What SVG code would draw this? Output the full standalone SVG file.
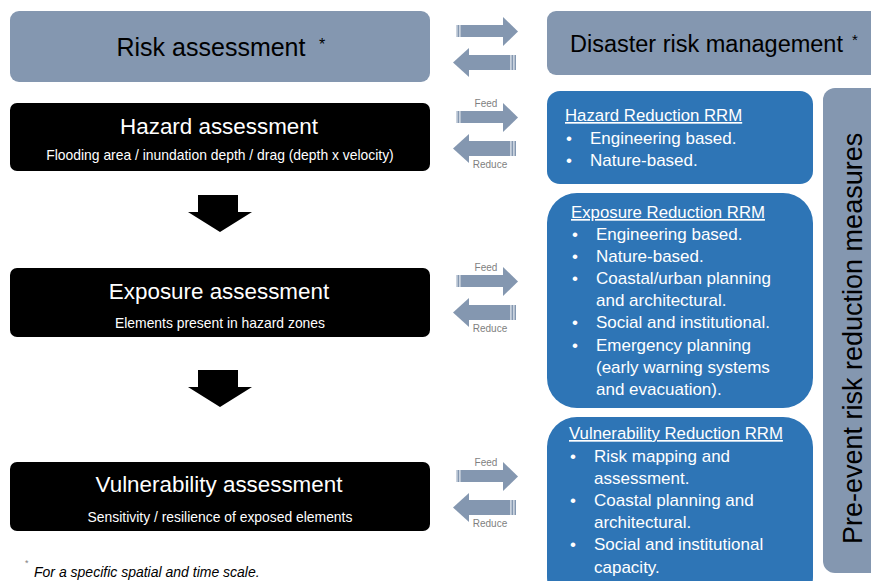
<svg xmlns="http://www.w3.org/2000/svg" width="871" height="581" viewBox="0 0 871 581">
<style>
.gb{fill:#8497b0}
.bl{fill:#2e75b6}
.bk{fill:#000}
.t{font-family:"Liberation Sans",Arial,sans-serif}
.wt{fill:#fff}
.sub{font-size:13.9px}
.lbl{font-family:"Liberation Sans",Arial,sans-serif;font-size:10px;fill:#7f7f7f;text-anchor:middle}
.rrm{font-family:"Liberation Sans",Arial,sans-serif;font-size:17px;fill:#fff}
.hd{font-size:16.8px}
.str{fill:#c9d2de}
</style>
<defs>
<g id="pair">
<rect class="gb" x="462" y="275" width="42" height="12"/>
<rect class="str" x="456" y="275" width="1.5" height="12"/><rect class="gb" x="457.5" y="275" width="1.5" height="12"/>
<rect class="str" x="459" y="275" width="1.5" height="12"/><rect class="gb" x="460.5" y="275" width="1.5" height="12"/>
<polygon class="gb" points="503,267 518,281.5 503,296"/>
<rect class="gb" x="468" y="305" width="42" height="15"/>
<rect class="str" x="510" y="305" width="1.5" height="15"/><rect class="gb" x="511.5" y="305" width="1.5" height="15"/>
<rect class="str" x="513" y="305" width="1.5" height="15"/><rect class="gb" x="514.5" y="305" width="1.5" height="15"/>
<polygon class="gb" points="469,298 453,312.5 469,327"/>
</g>
<polygon id="down" class="bk" points="198,0 238,0 238,17 252,17 220,37 188,17 198,17"/>
</defs>

<g id="risk-assessment">
<rect class="gb" x="10" y="11" width="420" height="71" rx="9"/>
<text class="t" x="211" y="56" font-size="25" text-anchor="middle" fill="#000">Risk assessment</text>
<text class="t" x="319" y="50" font-size="16" fill="#000">*</text>
</g>

<g id="disaster-risk-management">
<rect class="gb" x="547" y="11" width="340" height="64" rx="9"/>
<text class="t" x="570" y="52" font-size="23.5" fill="#000">Disaster risk management</text>
<text class="t" x="852" y="45" font-size="15" fill="#000">*</text>
</g>

<g id="hazard-assessment">
<rect class="bk" x="10" y="103" width="420" height="68" rx="7"/>
<text class="t wt" x="219" y="134" font-size="22.4" text-anchor="middle">Hazard assessment</text>
<text class="t wt sub" x="220" y="160" text-anchor="middle">Flooding area / inundation depth / drag (depth x velocity)</text>
</g>

<g id="exposure-assessment">
<rect class="bk" x="10" y="268" width="420" height="69" rx="7"/>
<text class="t wt" x="219" y="299" font-size="22.4" text-anchor="middle">Exposure assessment</text>
<text class="t wt sub" x="220" y="328" text-anchor="middle">Elements present in hazard zones</text>
</g>

<g id="vulnerability-assessment">
<rect class="bk" x="10" y="462" width="420" height="69" rx="7"/>
<text class="t wt" x="219" y="492" font-size="22.4" text-anchor="middle">Vulnerability assessment</text>
<text class="t wt sub" x="220" y="522" text-anchor="middle">Sensitivity / resilience of exposed elements</text>
</g>

<g id="hazard-rrm">
<rect class="bl" x="547" y="91" width="266" height="93" rx="13"/>
<text class="rrm hd" x="565" y="121" text-decoration="underline">Hazard Reduction RRM</text>
<text class="rrm"><tspan x="566" y="144">•</tspan><tspan x="590" y="144">Engineering based.</tspan><tspan x="566" y="166">•</tspan><tspan x="590" y="166">Nature-based.</tspan></text>
</g>

<g id="exposure-rrm">
<rect class="bl" x="547" y="193" width="266" height="215" rx="30"/>
<text class="rrm hd" x="571" y="218" text-decoration="underline">Exposure Reduction RRM</text>
<text class="rrm">
<tspan x="572" y="240">•</tspan><tspan x="596" y="240">Engineering based.</tspan>
<tspan x="572" y="262">•</tspan><tspan x="596" y="262">Nature-based.</tspan>
<tspan x="572" y="284">•</tspan><tspan x="596" y="284">Coastal/urban planning</tspan>
<tspan x="596" y="306">and architectural.</tspan>
<tspan x="572" y="328">•</tspan><tspan x="596" y="328">Social and institutional.</tspan>
<tspan x="572" y="351">•</tspan><tspan x="596" y="351">Emergency planning</tspan>
<tspan x="596" y="373">(early warning systems</tspan>
<tspan x="596" y="395">and evacuation).</tspan>
</text>
</g>

<g id="vulnerability-rrm">
<rect class="bl" x="547" y="417" width="266" height="190" rx="30"/>
<text class="rrm hd" x="569" y="439" text-decoration="underline">Vulnerability Reduction RRM</text>
<text class="rrm">
<tspan x="570" y="462">•</tspan><tspan x="594" y="462">Risk mapping and</tspan>
<tspan x="594" y="484">assessment.</tspan>
<tspan x="570" y="506">•</tspan><tspan x="594" y="506">Coastal planning and</tspan>
<tspan x="594" y="528">architectural.</tspan>
<tspan x="570" y="550">•</tspan><tspan x="594" y="550">Social and institutional</tspan>
<tspan x="594" y="573">capacity.</tspan>
</text>
</g>

<g id="pre-event">
<rect class="gb" x="823" y="88" width="70" height="485" rx="12"/>
<text class="t" transform="translate(862,544) rotate(-90)" font-size="27" fill="#000">Pre-event risk reduction measures</text>
</g>

<g id="connectors">
<use href="#pair" transform="translate(0,-250)"/>
<use href="#pair" transform="translate(0,-164)"/>
<use href="#pair"/>
<use href="#pair" transform="translate(0,195)"/>
<text class="lbl" x="486" y="107">Feed</text>
<text class="lbl" x="490" y="168">Reduce</text>
<text class="lbl" x="486" y="271">Feed</text>
<text class="lbl" x="490" y="332">Reduce</text>
<text class="lbl" x="486" y="466">Feed</text>
<text class="lbl" x="490" y="527">Reduce</text>
<use href="#down" transform="translate(0,195)"/>
<use href="#down" transform="translate(0,370)"/>
</g>

<g id="footnote">
<text class="t" x="25" y="566" font-size="9" fill="#7f7f7f">*</text>
<text class="t" x="34" y="577" font-size="14" font-style="italic" fill="#000">For a specific spatial and time scale.</text>
</g>
</svg>
